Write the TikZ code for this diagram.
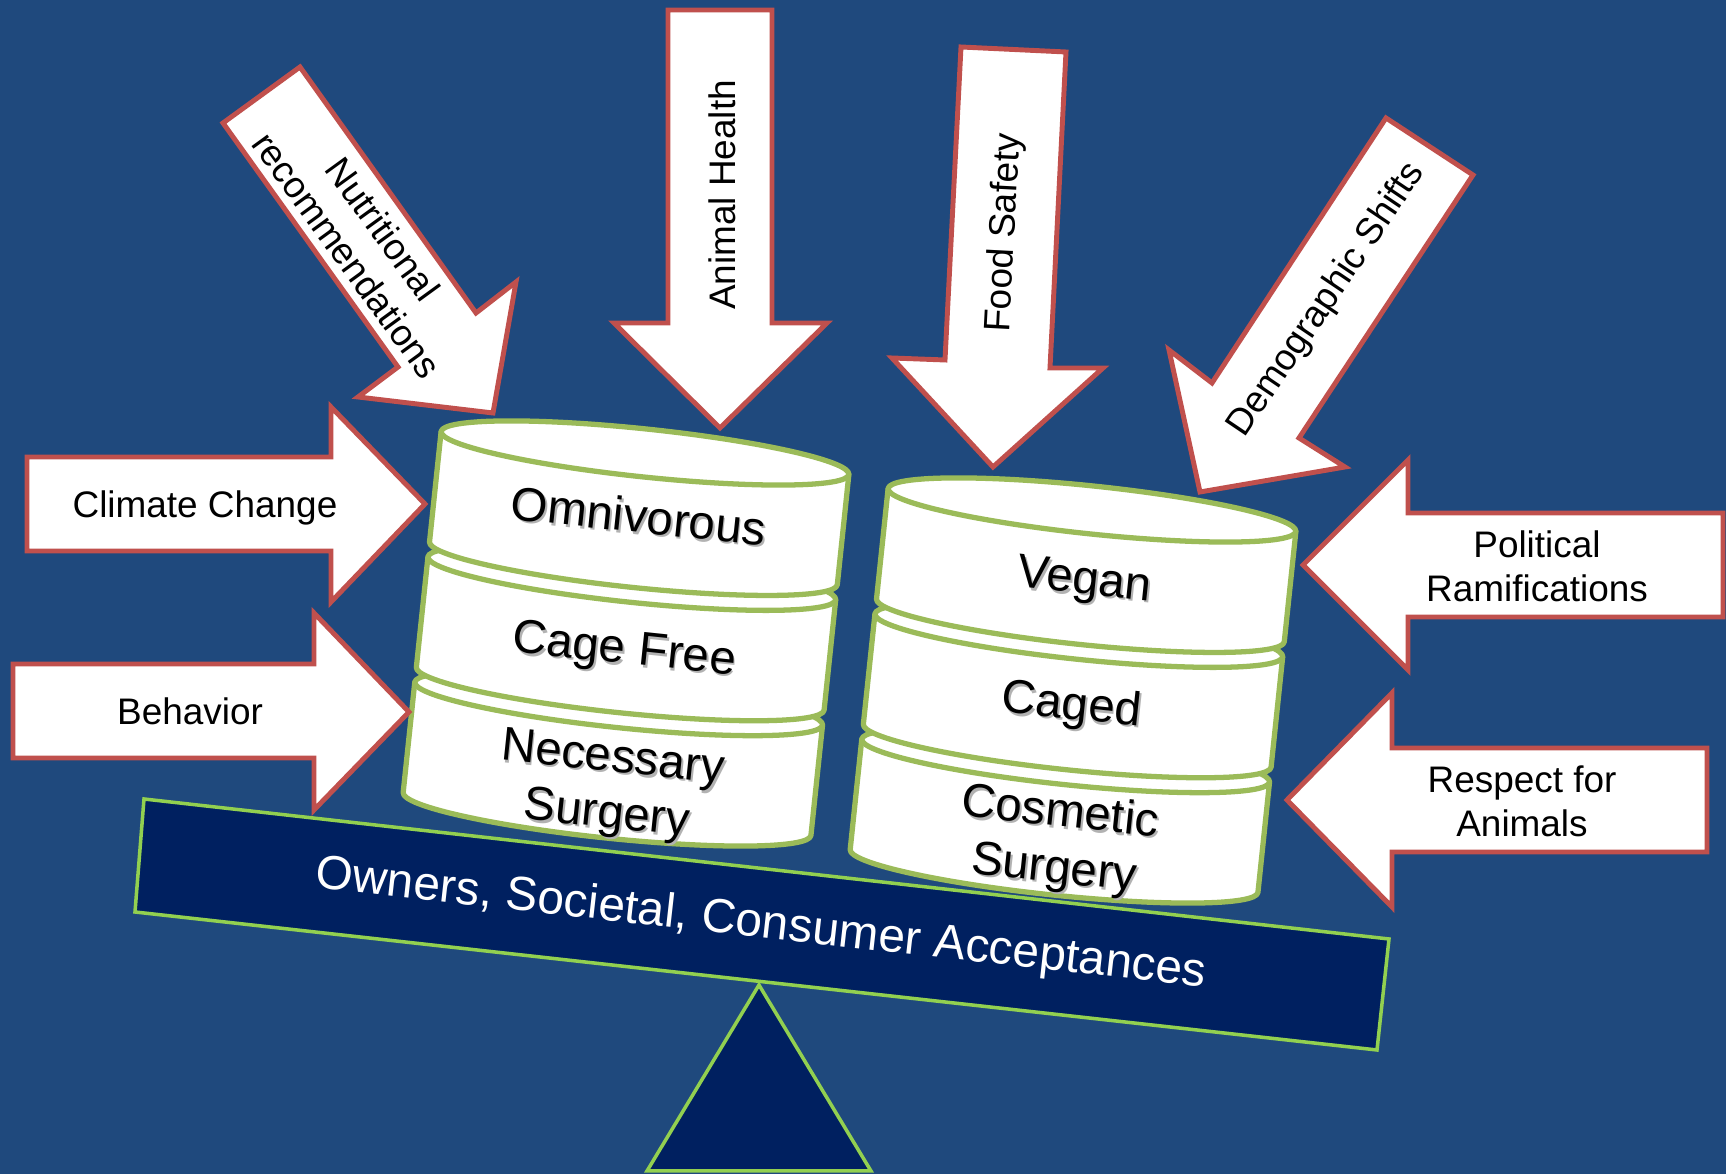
\documentclass[tikz,border=0pt]{standalone}
\usepackage{fontspec}
\setmainfont{Liberation Sans}

\definecolor{slide}{RGB}{31,73,125}
\definecolor{arrowred}{RGB}{192,80,77}
\definecolor{cangreen}{RGB}{155,187,89}
\definecolor{beamgreen}{RGB}{146,208,80}
\definecolor{beamblue}{RGB}{0,32,96}

\newcommand{\txtshadow}[1]{\leavevmode\rlap{\kern0.6pt\raisebox{-0.6pt}{\textcolor{black!30}{#1}}}#1}

\begin{document}
\begin{tikzpicture}[x=0.01cm, y=-0.01cm]
    % a see-saw of acceptances, with the pressures pushing on it
    \tikzset{pushbox/.style = {draw=arrowred, fill=white, line width=1.4pt}}
    \tikzset{pushtext/.style = {font=\fontsize{10.5}{12.6}\selectfont, align=center, inner sep=0pt}}
    \tikzset{canline/.style = {draw=cangreen, fill=white, line width=1.5pt, line join=round}}
    \tikzset{cantext/.style = {font=\fontsize{13.5}{16}\selectfont, align=center, inner sep=0pt, rotate=-6}}
    \tikzset{seesaw/.style = {draw=beamgreen, fill=beamblue, line width=1pt, line join=miter}}
    \tikzset{can/.pic = {
        \filldraw[canline] (-205,0) -- (-205,111)
            arc[start angle=180, end angle=0, x radius=205, y radius=24] -- (205,0) -- cycle;
        \filldraw[canline] (0,0) ellipse [x radius=205, y radius=24];
    }}

    % background
    \fill[slide] (0,0) rectangle (1726,1174);
    \useasboundingbox (0,0) rectangle (1726,1174);

    % pivot and beam
    \draw[seesaw] (759,985) -- (871,1171) -- (647,1171) -- cycle;
    \draw[seesaw] (144,799) -- (1389,939) -- (1377,1050) -- (135,912) -- cycle;
    \node[font=\fontsize{13.6}{16}\selectfont, text=white, inner sep=0pt, rotate=-6.4]
        (accept) at (761,925) {Owners, Societal, Consumer Acceptances};

    % left stack
    \begin{scope}[shift={(645,453)}, rotate=-6]
        \pic[transform shape] at (0,252) {can};
        \pic[transform shape] at (0,126) {can};
        \pic[transform shape] at (0,0) {can};
        \node[cantext] (omni) at (0,64) {\txtshadow{Omnivorous}};
        \node[cantext] (cagefree) at (0,201) {\txtshadow{Cage Free}};
        \node[cantext] (necessary) at (0,338) {\txtshadow{Necessary}\\\txtshadow{Surgery}};
    \end{scope}

    % right stack
    \begin{scope}[shift={(1092,510)}, rotate=-6]
        \pic[transform shape] at (0,252) {can};
        \pic[transform shape] at (0,126) {can};
        \pic[transform shape] at (0,0) {can};
        \node[cantext] (vegan) at (0,74) {\txtshadow{Vegan}};
        \node[cantext] (caged) at (0,199) {\txtshadow{Caged}};
        \node[cantext] (cosmetic) at (0,335) {\txtshadow{Cosmetic}\\\txtshadow{Surgery}};
    \end{scope}

    % pushes from the left
    \draw[pushbox] (27,457) -- (331,457) -- (331,407) -- (425,504) -- (331,602) -- (331,551) -- (27,551) -- cycle;
    \node[pushtext] (climate) at (205,508) {Climate Change};
    \draw[pushbox] (13,664) -- (314,664) -- (314,613) -- (409,712) -- (314,810) -- (314,758) -- (13,758) -- cycle;
    \node[pushtext] (behavior) at (190,711) {Behavior};

    % pushes from above
    \draw[pushbox] (223,123) -- (300,67) -- (476,313) -- (516,282) -- (493,413) -- (358,397) -- (398,367) -- cycle;
    \node[pushtext, rotate=-54] (nutrition) at (365,242) {Nutritional\\recommendations};
    \draw[pushbox] (668,10) -- (772,10) -- (772,323) -- (827,323) -- (720,428) -- (614,323) -- (668,323) -- cycle;
    \node[pushtext, rotate=90] (health) at (722,195) {Animal Health};
    \draw[pushbox] (961,47) -- (1066,52) -- (1050,368) -- (1103,368) -- (993,467) -- (892,358) -- (945,360) -- cycle;
    \node[pushtext, rotate=87] (safety) at (1005,233) {Food Safety};
    \draw[pushbox] (1386,118) -- (1473,175) -- (1299,438) -- (1345,467) -- (1200,492) -- (1169,350) -- (1212,383) -- cycle;
    \node[pushtext, rotate=56] (demo) at (1327,300) {Demographic Shifts};

    % pushes from the right
    \draw[pushbox] (1723,513) -- (1408,513) -- (1408,460) -- (1303,565) -- (1408,670) -- (1408,617) -- (1723,617) -- cycle;
    \node[pushtext] (political) at (1537,566) {Political\\Ramifications};
    \draw[pushbox] (1707,748) -- (1392,748) -- (1392,693) -- (1287,800) -- (1392,907) -- (1392,852) -- (1707,852) -- cycle;
    \node[pushtext] (respect) at (1522,801) {Respect for\\Animals};
\end{tikzpicture}
\end{document}
